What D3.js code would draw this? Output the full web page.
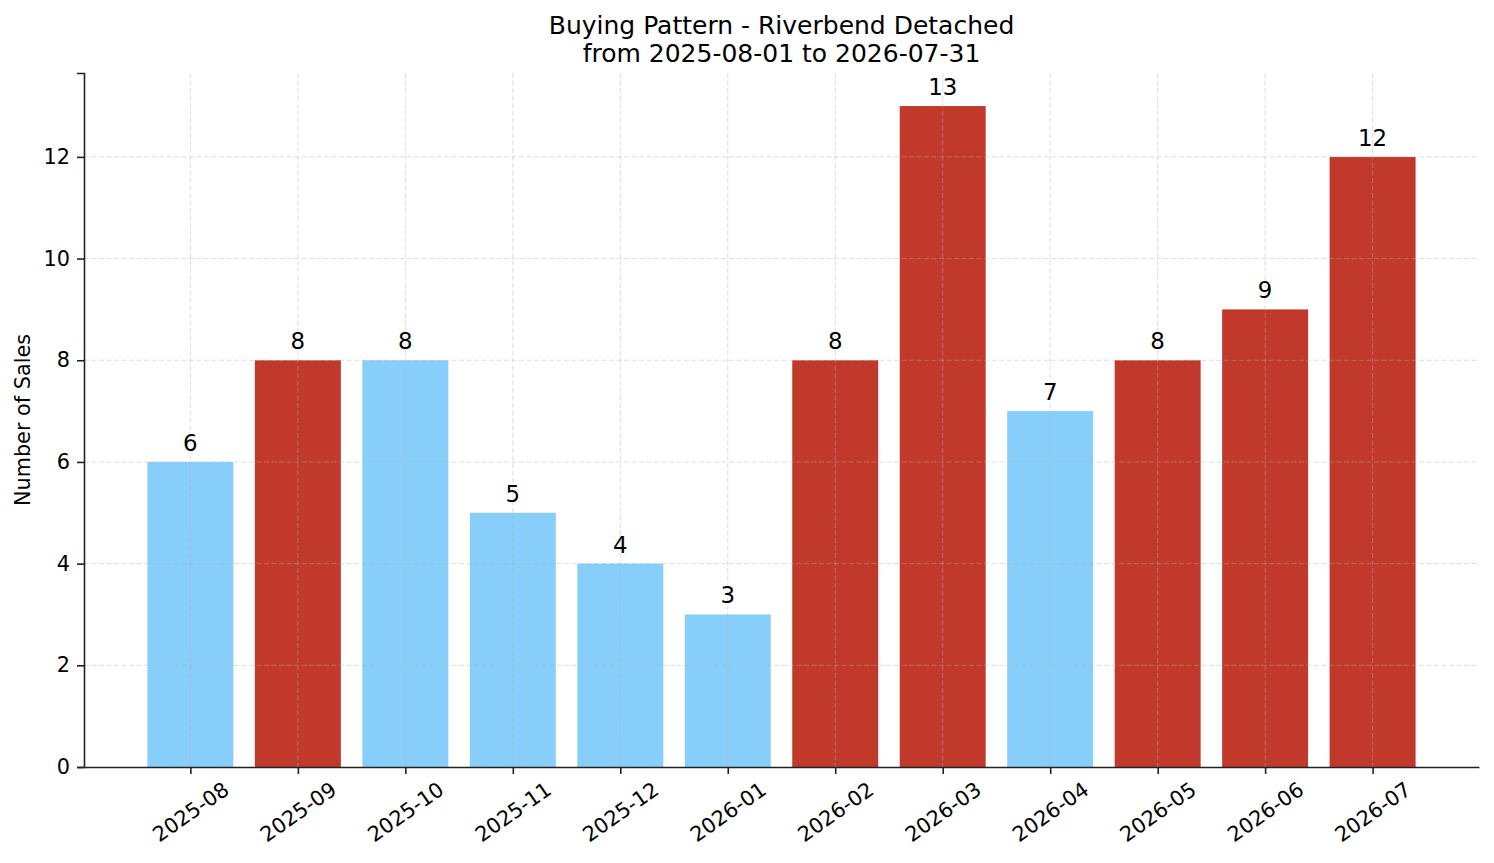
<!DOCTYPE html>
<html>
<head>
<meta charset="utf-8">
<script src="https://cdn.jsdelivr.net/npm/d3@7"></script>
<style>
  body { margin: 0; background: #fff; }
  svg { display: block; font-family: "DejaVu Sans", sans-serif; }
</style>
</head>
<body>
<div id="chart"></div>
<script>
// data
const months = ["2025-08", "2025-09", "2025-10", "2025-11", "2025-12", "2026-01",
                "2026-02", "2026-03", "2026-04", "2026-05", "2026-06", "2026-07"];
const sales = [6, 8, 8, 5, 4, 3, 8, 13, 7, 8, 9, 12];
const aboveAvg = [false, true, false, false, false, false, true, true, false, true, true, true];
const yTicks = [0, 2, 4, 6, 8, 10, 12];

const W = 1494, H = 863;
const margin = { top: 73, right: 15, bottom: 96, left: 84 };
const width = W - margin.left - margin.right;
const height = H - margin.top - margin.bottom;

const blue = "#87cefa", red = "#c0392b";

const svg = d3.select("#chart").append("svg")
    .attr("width", W)
    .attr("height", H);

const g = svg.append("g")
    .attr("transform", `translate(${margin.left},${margin.top})`);

// x: bars at 0..n-1, width 0.8, 5% margin like matplotlib
const n = months.length;
const lo = -0.4, hi = n - 1 + 0.4, pad = (hi - lo) * 0.05;
const x = d3.scaleLinear().domain([lo - pad, hi + pad]).range([0, width]);
const y = d3.scaleLinear().domain([0, d3.max(sales) * 1.05]).range([height, 0]);

// bars
g.selectAll(".bar")
    .data(sales)
    .enter()
    .append("rect")
    .attr("class", "bar")
    .attr("x", (d, i) => x(i - 0.4))
    .attr("width", x(0.4) - x(-0.4))
    .attr("y", d => y(d))
    .attr("height", d => height - y(d))
    .attr("fill", (d, i) => aboveAvg[i] ? red : blue);

// grid on top, faint dashed
const grid = g.append("g").attr("class", "grid")
    .attr("stroke", "#b0b0b0")
    .attr("stroke-opacity", 0.55)
    .attr("stroke-width", 0.8)
    .attr("stroke-dasharray", "5,2.5");

grid.selectAll(".gx")
    .data(months)
    .enter()
    .append("line")
    .attr("x1", (d, i) => x(i)).attr("x2", (d, i) => x(i))
    .attr("y1", 0).attr("y2", height);

grid.selectAll(".gy")
    .data(yTicks.filter(t => t > 0))
    .enter()
    .append("line")
    .attr("x1", 0).attr("x2", width)
    .attr("y1", d => y(d)).attr("y2", d => y(d));

// value labels
g.selectAll(".bar-label")
    .data(sales)
    .enter()
    .append("text")
    .attr("class", "bar-label")
    .attr("x", (d, i) => x(i))
    .attr("y", d => y(d) - 11)
    .attr("text-anchor", "middle")
    .style("font-size", "22.9px")
    .text(d => d);

// y axis
const yAxis = g.append("g")
    .call(d3.axisLeft(y).tickValues(yTicks).tickSize(7).tickPadding(7));
yAxis.select(".domain").attr("stroke", "#222").attr("stroke-width", 1.6);
yAxis.selectAll(".tick line").attr("stroke", "#222").attr("stroke-width", 1.6);
yAxis.selectAll(".tick text")
    .style("font-size", "20.8px")
    .attr("fill", "#000")
    .attr("font-family", "DejaVu Sans");

// x axis
const xAxis = g.append("g")
    .attr("transform", `translate(0,${height})`)
    .call(d3.axisBottom(x).tickValues(d3.range(n)).tickFormat(i => months[i]).tickSize(7).tickSizeOuter(0));
xAxis.select(".domain").attr("stroke", "#222").attr("stroke-width", 1.6);
xAxis.selectAll(".tick line").attr("stroke", "#222").attr("stroke-width", 1.6);

const rot = 35 * Math.PI / 180;
xAxis.selectAll(".tick text")
    .style("font-size", "20.8px")
    .attr("fill", "#000")
    .attr("font-family", "DejaVu Sans")
    .attr("dy", null)
    .attr("y", null)
    .attr("dominant-baseline", "central")
    .attr("text-anchor", "middle")
    .attr("transform", function () {
        const w = this.getComputedTextLength();
        const h = 15;
        const off = 7 + 7 + (w * Math.sin(rot) + h * Math.cos(rot)) / 2;
        return `translate(0,${off}) rotate(-35)`;
    });

// y label
svg.append("text")
    .attr("transform", `translate(30,${margin.top + height / 2}) rotate(-90)`)
    .attr("text-anchor", "middle")
    .style("font-size", "20.8px")
    .text("Number of Sales");

// title
const title = svg.append("text")
    .attr("x", margin.left + width / 2)
    .attr("text-anchor", "middle")
    .style("font-size", "25px");
title.append("tspan").attr("x", margin.left + width / 2).attr("y", 34)
    .text("Buying Pattern - Riverbend Detached");
title.append("tspan").attr("x", margin.left + width / 2).attr("y", 62)
    .text("from 2025-08-01 to 2026-07-31");
</script>
</body>
</html>
